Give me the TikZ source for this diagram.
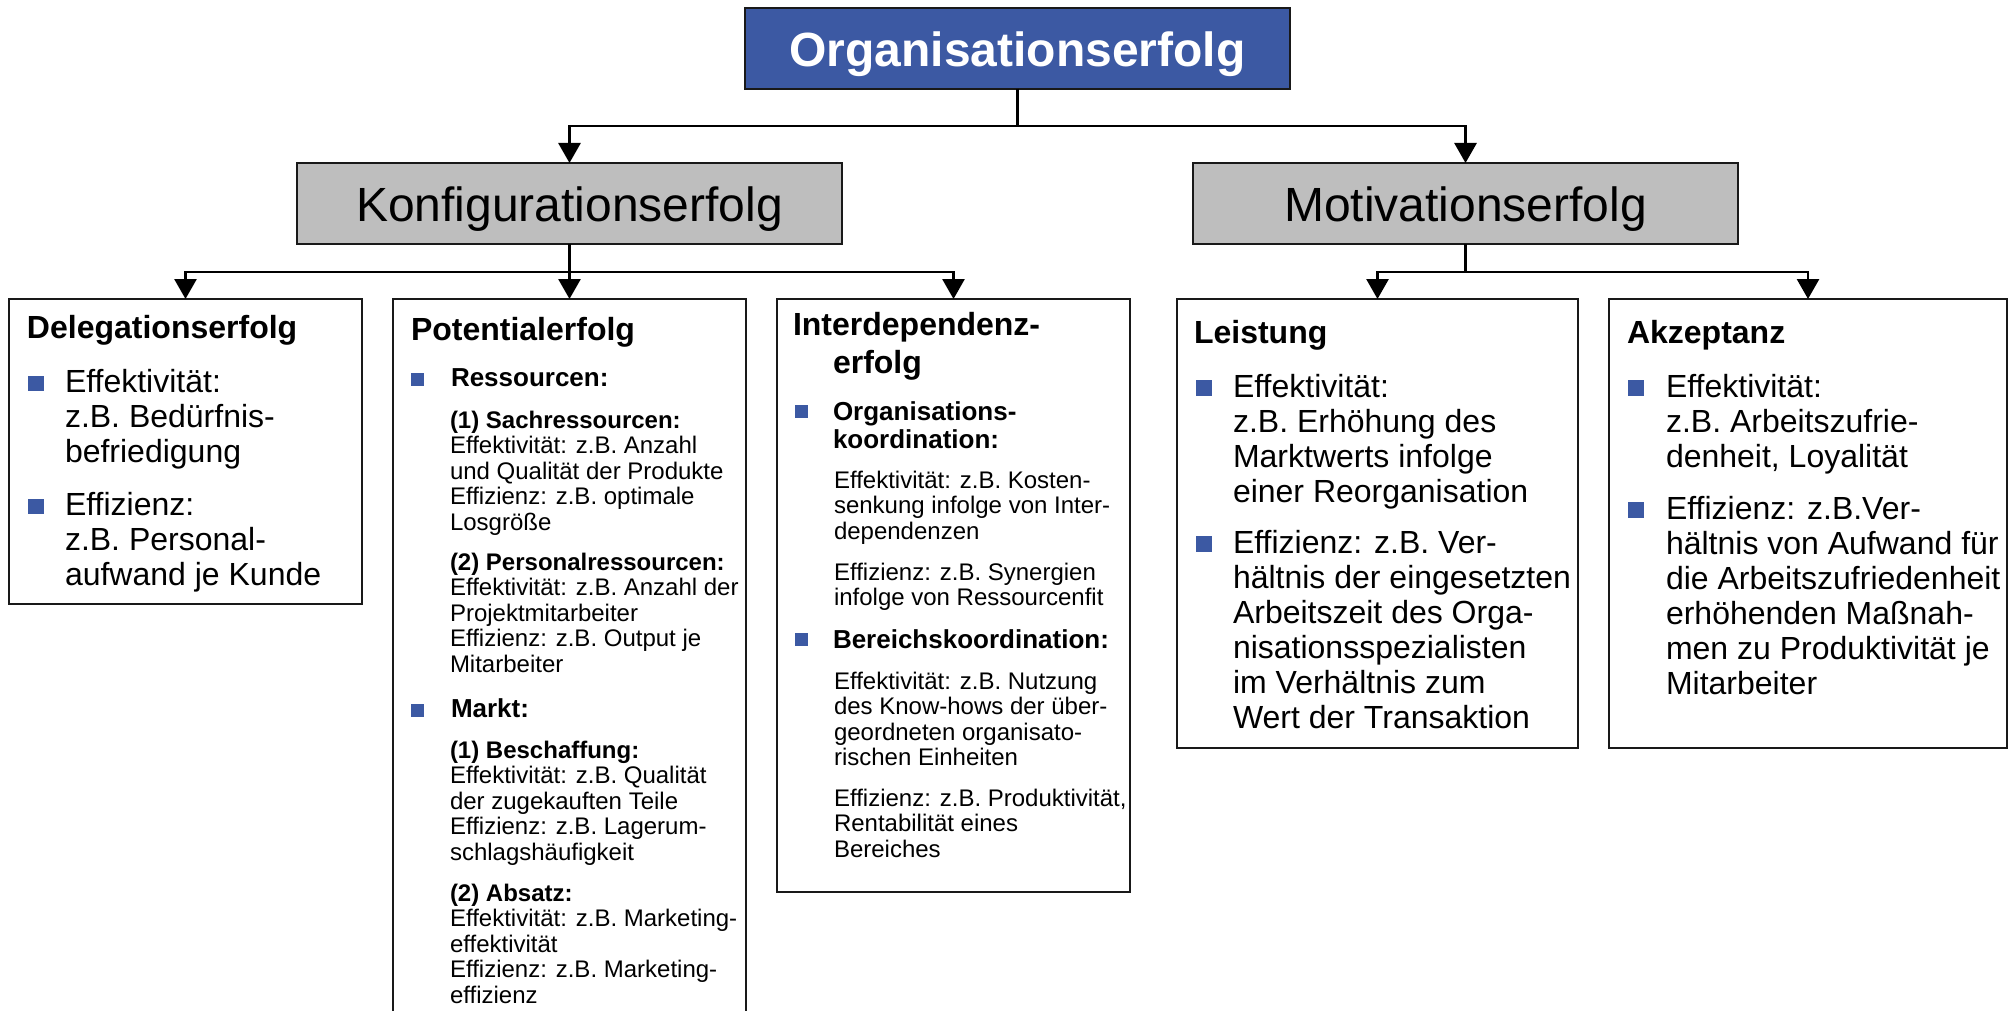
\documentclass[tikz,border=0pt]{standalone}
\usepackage{fontspec}
\setmainfont{Liberation Sans}[Ligatures=NoCommon]
\usetikzlibrary{arrows.meta}

\definecolor{orgblue}{RGB}{60,89,163}
\definecolor{boxgray}{RGB}{190,190,190}
\definecolor{edge}{RGB}{25,25,25}

% left-aligned text block whose reference point is the baseline of its first line
\newcommand\blk[3]{\begin{minipage}[t]{500pt}\fontsize{#1}{#2}\selectfont\lineskiplimit=-1000pt\lineskip=0pt\raggedright #3\end{minipage}}

\begin{document}
\begin{tikzpicture}[x=1pt,y=-1pt,
  card/.style={draw=edge,line width=2pt,anchor=north west,inner sep=0pt,outer sep=0pt},
  head/.style={card,fill=boxgray,minimum width=545pt,minimum height=81pt},
  conn/.style={draw=black,line width=2.8pt,-{Triangle[width=22pt,length=20pt]}},
  txt/.style={anchor=base west,inner sep=0pt,outer sep=0pt},
  bul/.style={fill=orgblue}]
\useasboundingbox (0,0) rectangle (2009,1011);

% --- top level ---
\node[card,fill=orgblue,minimum width=545pt,minimum height=81pt] (org) at (745,8) {};
\node[anchor=base,inner sep=0pt,text=white,font=\bfseries\fontsize{48}{50}\selectfont] (org-label) at (1017.5,67) {Organisationserfolg};

% --- second level ---
\node[head] (konf) at (297,163) {};
\node[anchor=base,inner sep=0pt,font=\fontsize{48}{50}\selectfont] (konf-label) at (569.5,222) {Konfigurationserfolg};
\node[head] (motiv) at (1193,163) {};
\node[anchor=base,inner sep=0pt,font=\fontsize{48}{50}\selectfont] (motiv-label) at (1465.5,222) {Motivationserfolg};

% --- third level boxes ---
\node[card,minimum width=353pt,minimum height=305pt] (deleg) at (9,299) {};
\node[card,minimum width=353pt,minimum height=760pt] (pot) at (393,299) {};
\node[card,minimum width=353pt,minimum height=593pt] (inter) at (777,299) {};
\node[card,minimum width=401pt,minimum height=449pt] (leist) at (1177,299) {};
\node[card,minimum width=398pt,minimum height=449pt] (akz) at (1609,299) {};

% --- connectors ---
\draw[conn] (org.south) -- ++(0,37) -| (konf.north);
\draw[conn] (org.south) -- ++(0,37) -| (motiv.north);
\draw[conn] (konf.south) -- ++(0,28) -| (deleg.north);
\draw[conn] (konf.south) -- (pot.north);
\draw[conn] (konf.south) -- ++(0,28) -| (inter.north);
\draw[conn] (motiv.south) -- ++(0,28) -| (leist.north);
\draw[conn] (motiv.south) -- ++(0,28) -| (akz.north);

% --- Delegationserfolg ---
\node[txt] (deleg-title) at (27,338) {\blk{32}{35}{\bfseries Delegationserfolg}};
\fill[bul] (28,376) rectangle ++(16,15);
\node[txt] (deleg-eff) at (65,392) {\blk{32}{35}{Effektivität:\\ z.B. Bedürfnis-\\ befriedigung}};
\fill[bul] (28,499) rectangle ++(16,15);
\node[txt] (deleg-ezz) at (65,515) {\blk{32}{35}{Effizienz:\\ z.B. Personal-\\ aufwand je Kunde}};

% --- Potentialerfolg ---
\node[txt] (pot-title) at (411,340) {\blk{32}{35}{\bfseries Potentialerfolg}};
\fill[bul] (411,373) rectangle ++(13,13);
\node[txt] (pot-res) at (451,386) {\blk{26}{28}{\bfseries Ressourcen:}};
\node[txt] (pot-sach) at (450,428) {\blk{24}{25.5}{\textbf{(1) Sachressourcen:}\\ Effektivität: z.B. Anzahl\\ und Qualität der Produkte\\ Effizienz: z.B. optimale\\ Losgröße}};
\node[txt] (pot-pers) at (450,570) {\blk{24}{25.5}{\textbf{(2) Personalressourcen:}\\ Effektivität: z.B. Anzahl der\\ Projektmitarbeiter\\ Effizienz: z.B. Output je\\ Mitarbeiter}};
\fill[bul] (411,704) rectangle ++(13,13);
\node[txt] (pot-markt) at (451,717) {\blk{26}{28}{\bfseries Markt:}};
\node[txt] (pot-besch) at (450,758) {\blk{24}{25.5}{\textbf{(1) Beschaffung:}\\ Effektivität: z.B. Qualität\\ der zugekauften Teile\\ Effizienz: z.B. Lagerum-\\ schlagshäufigkeit}};
\node[txt] (pot-abs) at (450,901) {\blk{24}{25.5}{\textbf{(2) Absatz:}\\ Effektivität: z.B. Marketing-\\ effektivität\\ Effizienz: z.B. Marketing-\\ effizienz}};

% --- Interdependenzerfolg ---
\node[txt] (inter-title) at (793,335) {\blk{32}{38}{\bfseries Interdependenz-\\\hspace*{40pt}erfolg}};
\fill[bul] (795,405) rectangle ++(13,13);
\node[txt] (inter-org) at (833,420) {\blk{26}{28}{\bfseries Organisations-\\ koordination:}};
\node[txt] (inter-org-eff) at (834,488) {\blk{24}{25.5}{Effektivität: z.B. Kosten-\\ senkung infolge von Inter-\\ dependenzen}};
\node[txt] (inter-org-ezz) at (834,580) {\blk{24}{25.5}{Effizienz: z.B. Synergien\\ infolge von Ressourcenfit}};
\fill[bul] (795,633) rectangle ++(13,13);
\node[txt] (inter-ber) at (833,648) {\blk{26}{28}{\bfseries Bereichskoordination:}};
\node[txt] (inter-ber-eff) at (834,689) {\blk{24}{25.5}{Effektivität: z.B. Nutzung\\ des Know-hows der über-\\ geordneten organisato-\\ rischen Einheiten}};
\node[txt] (inter-ber-ezz) at (834,806) {\blk{24}{25.5}{Effizienz: z.B. Produktivität,\\ Rentabilität eines\\ Bereiches}};

% --- Leistung ---
\node[txt] (leist-title) at (1194,343) {\blk{32}{35}{\bfseries Leistung}};
\fill[bul] (1196,380) rectangle ++(16,16);
\node[txt] (leist-eff) at (1233,397) {\blk{32}{35}{Effektivität:\\ z.B. Erhöhung des\\ Marktwerts infolge\\ einer Reorganisation}};
\fill[bul] (1196,536) rectangle ++(16,16);
\node[txt] (leist-ezz) at (1233,553) {\blk{32}{35}{Effizienz: z.B. Ver-\\ hältnis der eingesetzten\\ Arbeitszeit des Orga-\\ nisationsspezialisten\\ im Verhältnis zum\\ Wert der Transaktion}};

% --- Akzeptanz ---
\node[txt] (akz-title) at (1627,343) {\blk{32}{35}{\bfseries Akzeptanz}};
\fill[bul] (1628,380) rectangle ++(16,16);
\node[txt] (akz-eff) at (1666,397) {\blk{32}{35}{Effektivität:\\ z.B. Arbeitszufrie-\\ denheit, Loyalität}};
\fill[bul] (1628,502) rectangle ++(16,16);
\node[txt] (akz-ezz) at (1666,519) {\blk{32}{35}{Effizienz: z.B.Ver-\\ hältnis von Aufwand für\\ die Arbeitszufriedenheit\\ erhöhenden Maßnah-\\ men zu Produktivität je\\ Mitarbeiter}};
\end{tikzpicture}
\end{document}
